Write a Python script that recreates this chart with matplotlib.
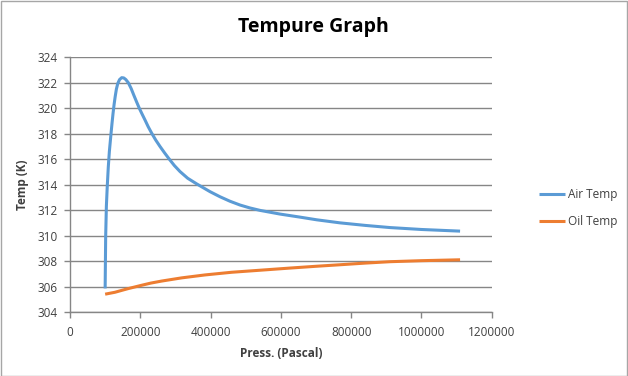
import matplotlib
matplotlib.use('Agg')
import matplotlib.pyplot as plt
from matplotlib.patches import Rectangle

# values
air_press = [100000, 101500, 103500, 106000, 109000, 112000, 116000, 119500,
             122500, 125500, 128500, 132000, 136000, 141000, 147100, 153000,
             159000, 166000, 174000, 182000, 189500, 197200, 205000, 213400,
             222500, 232500, 244000, 256100, 269000, 282600, 297000, 313000,
             335000, 360500, 398400, 426800, 455000, 483800, 512000, 540700,
             597600, 654500, 702000, 768300, 840000, 910600, 1000000, 1110000]
air_temp = [305.85, 309.9, 312.3, 313.85, 315.4, 316.6, 317.8, 318.8,
            319.6, 320.3, 320.9, 321.5, 321.95, 322.25, 322.4, 322.38,
            322.25, 322.0, 321.55, 321.0, 320.5, 320.0, 319.55, 319.08,
            318.55, 318.04, 317.5, 317.0, 316.5, 316.0, 315.5, 315.03,
            314.5, 314.06, 313.45, 313.05, 312.7, 312.4, 312.17, 311.98,
            311.69, 311.45, 311.24, 311.0, 310.8, 310.63, 310.48, 310.35]

oil_press = [100000, 128000, 150000, 166000, 185000, 204000, 230000, 261000,
             317800, 384000, 460000, 540700, 626000, 700000, 768300, 840000,
             910600, 1000000, 1110000]
oil_temp = [305.4, 305.55, 305.72, 305.84, 305.97, 306.1, 306.27, 306.43,
            306.68, 306.91, 307.12, 307.28, 307.45, 307.59, 307.71, 307.84,
            307.95, 308.03, 308.1]

x_ticks = [0, 200000, 400000, 600000, 800000, 1000000, 1200000]
y_ticks = [304, 306, 308, 310, 312, 314, 316, 318, 320, 322, 324]

plt.rcParams['font.family'] = ['Open Sans', 'DejaVu Sans']

W, H = 628, 376
fig = plt.figure(figsize=(W / 100, H / 100), dpi=100)
fig.patch.set_facecolor('white')
fig.add_artist(Rectangle((0.5 / W, 0.5 / H), 1 - 1.5 / W, 1 - 1.5 / H, transform=fig.transFigure,
                         fill=False, edgecolor='#a6a6a6', lw=1))

ax = fig.add_axes([70 / W, 1 - 312 / H, 421.7 / W, (312 - 57.3) / H])
grid_col = '#868686'
ax.plot(air_press, air_temp, color='#5B9BD5', lw=2.2, label='Air Temp',
        solid_joinstyle='round', solid_capstyle='butt')
ax.plot(oil_press, oil_temp, color='#ED7D31', lw=2.2, label='Oil Temp',
        solid_joinstyle='round', solid_capstyle='butt')

ax.set_xlim(0, 1200000)
ax.set_ylim(304, 324)
ax.set_xticks(x_ticks)
ax.set_xticklabels([str(v) for v in x_ticks])
ax.set_yticks(y_ticks)
ax.grid(axis='y', color=grid_col, lw=1)
ax.set_axisbelow(True)
for s in ['top', 'right']:
    ax.spines[s].set_visible(False)
for s in ['left', 'bottom']:
    ax.spines[s].set_color(grid_col)
    ax.spines[s].set_linewidth(1)
ax.tick_params(axis='both', colors=grid_col, length=4, width=1, labelcolor='#404040', labelsize=8.5)
ax.tick_params(axis='y', pad=5)
ax.tick_params(axis='x', pad=6)

ax.set_xlabel('Press. (Pascal)', fontsize=8.5, fontweight='bold', color='#404040', labelpad=6)
ax.set_ylabel('Temp (K)', fontsize=8.5, fontweight='bold', color='#404040', labelpad=6)

fig.text(313 / W, 1 - 27 / H, 'Tempure Graph', ha='center', va='center',
         fontsize=14, fontweight='bold', color='black')

ax.legend(loc='center left', bbox_to_anchor=(528 / W, 1 - 208 / H), bbox_transform=fig.transFigure,
          frameon=False, fontsize=8.5, handlelength=2.2, labelspacing=1.2, handletextpad=0.3,
          labelcolor='#404040')

fig.savefig('out.png', dpi=100)
